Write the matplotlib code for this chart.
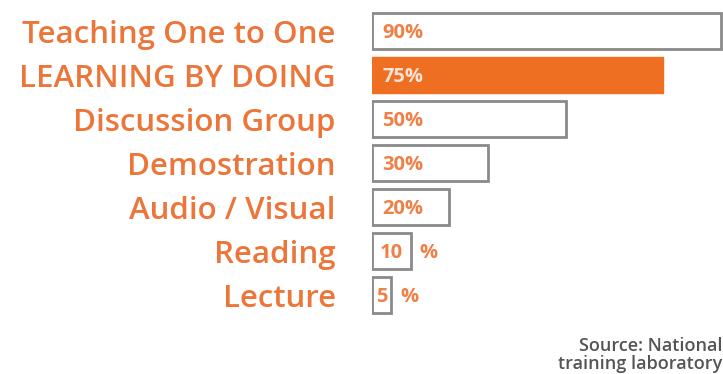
import numpy as np
from matplotlib import pyplot as plt

categories = ["Teaching One to One", "LEARNING BY DOING", "Discussion Group",
              "Demostration", "Audio / Visual", "Reading", "Lecture"]
values = [90, 75, 50, 30, 20, 10, 5]
highlight = "LEARNING BY DOING"

orange = "#ee6f22"
label_orange = "#ef8048"
edge_grey = "#8a8a8a"

plt.rcParams['font.family'] = ['Open Sans', 'DejaVu Sans']

fig = plt.figure(figsize=(7.23, 3.74), dpi=100)
ax = fig.add_axes([0.5145, 0.1524, 0.4855, 0.8235])

y = np.arange(len(categories))
for i, (cat, v) in enumerate(zip(categories, values)):
    hot = cat == highlight
    ax.barh(i, v, height=0.82, color=orange if hot else "white",
            edgecolor=orange if hot else edge_grey, linewidth=2 if not hot else 1)
    txt_color = "#fde3d6" if hot else label_orange
    if v >= 20:
        ax.text(2.6, i + 0.04, f"{v}%", va="center", ha="left", fontsize=14.5,
                fontweight="bold", color=txt_color)
    else:
        ax.text(v / 2, i + 0.04, f"{v}", va="center", ha="center", fontsize=14.5,
                fontweight="bold", color=txt_color)
        ax.text(v + 2.2, i + 0.04, "%", va="center", ha="left", fontsize=14.5,
                fontweight="bold", color=txt_color)

ax.set_xlim(0, 90.6)
ax.set_ylim(len(categories) - 0.5, -0.5)
ax.set_yticks(y)
ax.set_yticklabels(categories, fontsize=22.5, fontweight="semibold", color="#ec763a")
ax.tick_params(axis="y", length=0, pad=26)
ax.set_xticks([])
for s in ax.spines.values():
    s.set_visible(False)

fig.text(0.999, 0.062, "Source: National", ha="right", va="baseline",
         fontsize=13, fontweight="semibold", color="#555555")
fig.text(0.999, 0.014, "training laboratory", ha="right", va="baseline",
         fontsize=13, fontweight="semibold", color="#555555")

fig.savefig("out.png", dpi=100)
